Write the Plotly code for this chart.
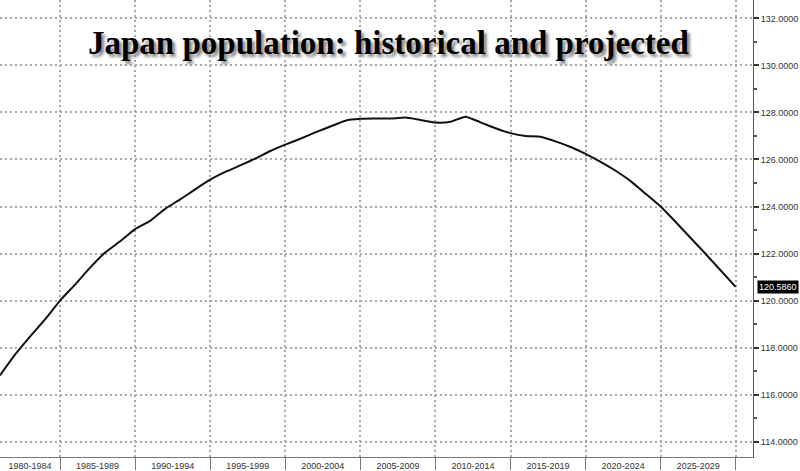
import plotly.graph_objects as go

years = list(range(1981, 2031))
population = [
    116.82, 117.70, 118.47, 119.20, 120.00, 120.68, 121.40, 122.04, 122.52, 123.04,
    123.39, 123.90, 124.30, 124.73, 125.14, 125.47, 125.75, 126.04, 126.36, 126.63,
    126.88, 127.15, 127.40, 127.65, 127.73, 127.74, 127.74, 127.78, 127.68, 127.57,
    127.60, 127.82, 127.58, 127.33, 127.12, 127.00, 126.97, 126.77, 126.53, 126.24,
    125.90, 125.52, 125.08, 124.54, 124.00, 123.34, 122.66, 121.98, 121.28, 120.586,
]
period_labels = ["1980-1984", "1985-1989", "1990-1994", "1995-1999", "2000-2004",
                 "2005-2009", "2010-2014", "2015-2019", "2020-2024", "2025-2029"]
label_positions = [1983, 1987.5, 1992.5, 1997.5, 2002.5, 2007.5, 2012.5, 2017.5, 2022.5, 2027.5]
y_ticks = [114, 116, 118, 120, 122, 124, 126, 128, 130, 132]
title_text = "Japan population: historical and projected"

tick_font = dict(family="Liberation Sans, Arial", size=9, color="#333333")
grid_dash = "1.5px,3.5px"
grid_color = "#a8a8a8"

fig = go.Figure()
fig.add_trace(go.Scatter(
    x=years, y=population, mode="lines",
    line=dict(color="#111111", width=2, shape="spline", smoothing=0.5),
    hoverinfo="skip", showlegend=False,
))

fig.update_layout(
    width=800, height=471,
    margin=dict(l=0, r=47, t=0, b=12),
    paper_bgcolor="white", plot_bgcolor="white",
    xaxis=dict(
        range=[1981, 2031.15],
        tickvals=label_positions, ticktext=period_labels,
        ticks="", showgrid=False, zeroline=False,
        showline=True, linecolor="#777777", linewidth=1,
        tickfont=tick_font, ticklabelstandoff=0,
        minor=dict(tick0=1985, dtick=5, showgrid=True, griddash=grid_dash,
                   gridcolor=grid_color, gridwidth=1.5,
                   ticks="outside", ticklen=12, tickcolor="#777777"),
        fixedrange=True,
    ),
    yaxis=dict(
        side="right", range=[113.35, 132.78],
        tickvals=y_ticks, tickformat=".4f",
        ticks="outside", ticklen=5, tickcolor="#333333", tickwidth=1.5,
        showgrid=True, griddash=grid_dash, gridcolor=grid_color, gridwidth=1.5,
        zeroline=False, showline=True, linecolor="#555555", linewidth=1,
        tickfont=tick_font,
        minor=dict(tick0=115, dtick=2, ticks="outside", ticklen=3, tickcolor="#555555"),
        fixedrange=True,
    ),
    annotations=[
        dict(text="<b>" + title_text + "</b>", xref="paper", yref="paper", x=0.516, y=0.905,
             xanchor="center", yanchor="middle", showarrow=False,
             font=dict(family="Liberation Serif, Times New Roman, serif", size=33,
                       color="#000000", shadow="3px 3px 3px #8a8a8a")),
        dict(text="120.5860", xref="paper", yref="y", x=1, y=population[-1],
             xanchor="left", yanchor="middle", xshift=4, showarrow=False,
             bgcolor="#000000", borderpad=1,
             font=dict(family="Liberation Sans, Arial", size=9, color="#ffffff")),
    ],
)

fig.write_html(
    "out.html",
    config={"displayModeBar": False},
    post_script="document.body.style.margin='0';document.body.style.overflow='hidden';",
)
